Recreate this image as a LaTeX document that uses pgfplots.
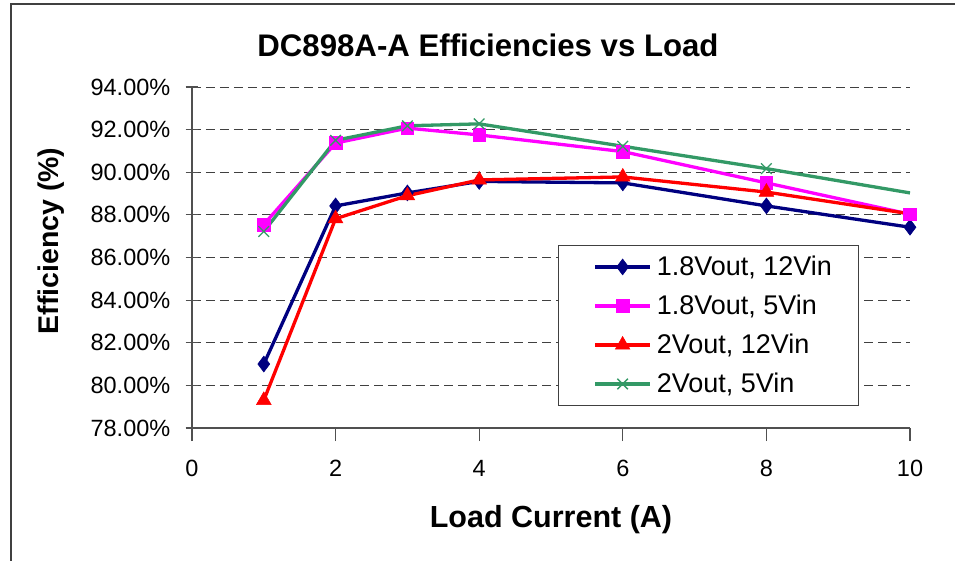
\documentclass[border=0pt]{standalone}
\usepackage{pgfplots}
\pgfplotsset{compat=1.18}
\usepackage{fontspec}
\setmainfont{Liberation Sans}
\definecolor{c1}{RGB}{0,0,128}
\definecolor{c2}{RGB}{255,0,255}
\definecolor{c3}{RGB}{255,0,0}
\definecolor{c4}{RGB}{51,153,102}
\definecolor{ax}{RGB}{80,80,80}
\begin{document}
\begin{tikzpicture}[x=1pt,y=1pt]
\useasboundingbox (-192,-133) rectangle (763,428);
\begin{axis}[
  at={(0,0)}, anchor=south west,
  width=718pt, height=341pt, scale only axis,
  xmin=0, xmax=10, ymin=78, ymax=94,
  axis lines=left,
  axis line style={ax, line width=1.2pt, -},
  xtick={0,2,4,6,8,10},
  xticklabels={0,2,4,6,8,10},
  ytick={78,80,82,84,86,88,90,92,94},
  yticklabels={78.00\%,80.00\%,82.00\%,84.00\%,86.00\%,88.00\%,90.00\%,92.00\%,94.00\%},
  ymajorgrids,
  major grid style={dash pattern=on 9pt off 5pt, black!75, line width=0.9pt},
  tick style={ax, line width=1.2pt},
  major tick length=13pt,
  xtick align=outside,
  ytick align=center,
  ticklabel style={font=\fontsize{23.5}{23.5}\selectfont},
  yticklabel style={anchor=east, inner sep=0pt, xshift=-15pt},
  xticklabel style={anchor=north, inner sep=0pt, yshift=-19pt},
  legend style={at={(axis description cs:0.5097,0.5367)}, anchor=north west,
    draw=black!75, line width=1pt, fill=white,
    inner xsep=27pt, inner ysep=9.5pt,
    column sep=5pt, row sep=15pt,
    font=\fontsize{27}{27}\selectfont,
    nodes={inner xsep=0pt, inner ysep=0pt, text height=21pt, text depth=3pt}},
  legend cell align=left,
  legend image code/.code={
    \path (0pt,0pt);
    \draw[#1, mark indices={2}] plot coordinates {(8pt,0pt) (35.5pt,0pt) (63pt,0pt)};},
]
\addplot[c1, line width=3.3pt, mark=diamond*, mark size=8pt, mark options={solid, fill=c1, line width=0.5pt}]
  coordinates {(1,81.0) (2,88.42) (3,89.03) (4,89.57) (6,89.5) (8,88.42) (10,87.42)};
\addlegendentry{1.8Vout, 12Vin}
\addplot[c2, line width=3.3pt, mark=square*, mark size=6.3pt, mark options={solid, fill=c2, line width=0.5pt}]
  coordinates {(1,87.55) (2,91.37) (3,92.07) (4,91.75) (6,90.97) (8,89.5) (10,88.03)};
\addlegendentry{1.8Vout, 5Vin}
\addplot[c3, line width=3.3pt, mark=triangle*, mark size=8.5pt, mark indices={1,2,3,4,5,6}, mark options={solid, fill=c3, line width=0.5pt}]
  coordinates {(1,79.3) (2,87.82) (3,88.9) (4,89.64) (6,89.78) (8,89.07) (10,88.05)};
\addlegendentry{2Vout, 12Vin}
\addplot[c4, line width=3.3pt, mark=x, mark size=7.5pt, mark indices={1,2,3,4,5,6}, mark options={solid, line width=1.3pt}]
  coordinates {(1,87.22) (2,91.5) (3,92.18) (4,92.27) (6,91.22) (8,90.17) (10,89.03)};
\addlegendentry{2Vout, 5Vin}
\end{axis}
\node[font=\bfseries\fontsize{31.2}{31.2}\selectfont] at (296,383) {DC898A-A Efficiencies vs Load};
\node[font=\bfseries\fontsize{30.5}{30.5}\selectfont] at (359,-92) {Load Current (A)};
\node[font=\bfseries\fontsize{28.5}{28.5}\selectfont, rotate=90] at (-141,187) {Efficiency (\%)};
\draw[black!75, line width=1.3pt] (-181,-140) -- (-181,424) -- (770,424);
\end{tikzpicture}
\end{document}
